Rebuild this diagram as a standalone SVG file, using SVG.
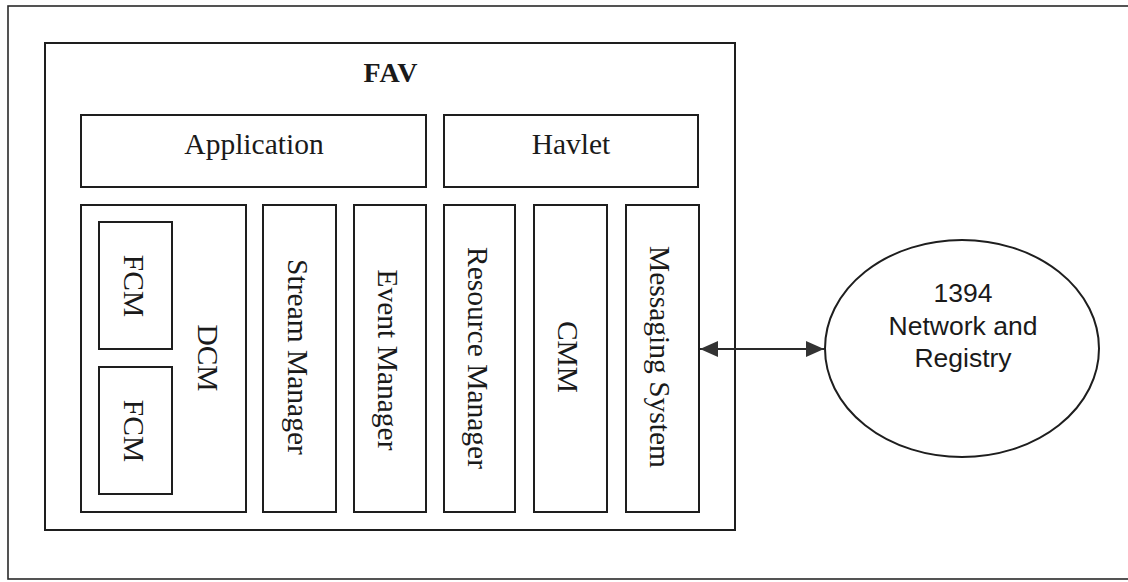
<svg xmlns="http://www.w3.org/2000/svg" width="1128" height="582" viewBox="0 0 1128 582">
  <style>
    .box { fill: none; stroke: #1e1e1e; stroke-width: 2; }
    .frame { fill: none; stroke: #2a2a2a; stroke-width: 1.6; }
    .serif { font-family: "Liberation Serif", "Times New Roman", serif; font-size: 29.5px; fill: #1a1a1a; }
    .title { font-family: "Liberation Serif", "Times New Roman", serif; font-size: 28px; font-weight: bold; fill: #1a1a1a; letter-spacing: 1px; }
    .sans { font-family: "Liberation Sans", Arial, sans-serif; font-size: 26.5px; fill: #1a1a1a; }
    .link { stroke: #2a2a2a; stroke-width: 2; fill: none; }
  </style>
  <defs>
    <marker id="head" viewBox="0 0 18 18" refX="18" refY="9" markerWidth="18" markerHeight="18" markerUnits="userSpaceOnUse" orient="auto-start-reverse">
      <path d="M0,1 L18,9 L0,17 Z" fill="#333"/>
    </marker>
  </defs>

  <rect width="1128" height="582" fill="#ffffff"/>

  <!-- outer frame (open on the right, runs off the page) -->
  <rect id="frame" class="frame" x="8" y="6" width="1130" height="573"/>

  <!-- FAV container -->
  <g id="fav">
    <rect class="box" x="45" y="43" width="690" height="487"/>
    <text class="title" x="391" y="82" text-anchor="middle">FAV</text>
  </g>

  <g id="application">
    <rect class="box" x="81" y="115" width="345" height="72"/>
    <text class="serif" x="254" y="154" text-anchor="middle">Application</text>
  </g>

  <g id="havlet">
    <rect class="box" x="444" y="115" width="254" height="72"/>
    <text class="serif" x="571" y="154" text-anchor="middle">Havlet</text>
  </g>

  <g id="dcm">
    <rect class="box" x="81" y="205" width="165" height="307"/>
    <text class="serif" transform="translate(198,358) rotate(90)" text-anchor="middle">DCM</text>
  </g>

  <g id="fcm1">
    <rect class="box" x="99" y="222" width="73" height="127"/>
    <text class="serif" transform="translate(124,286) rotate(90)" text-anchor="middle">FCM</text>
  </g>

  <g id="fcm2">
    <rect class="box" x="99" y="367" width="73" height="127"/>
    <text class="serif" transform="translate(124,431) rotate(90)" text-anchor="middle">FCM</text>
  </g>

  <g id="stream-manager">
    <rect class="box" x="263" y="205" width="73" height="307"/>
    <text class="serif" transform="translate(288,357) rotate(90)" text-anchor="middle">Stream Manager</text>
  </g>

  <g id="event-manager">
    <rect class="box" x="354" y="205" width="72" height="307"/>
    <text class="serif" transform="translate(378,360) rotate(90)" text-anchor="middle">Event Manager</text>
  </g>

  <g id="resource-manager">
    <rect class="box" x="444" y="205" width="71" height="307"/>
    <text class="serif" transform="translate(468,358) rotate(90)" text-anchor="middle">Resource Manager</text>
  </g>

  <g id="cmm">
    <rect class="box" x="534" y="205" width="73" height="307"/>
    <text class="serif" transform="translate(558,357) rotate(90)" text-anchor="middle">CMM</text>
  </g>

  <g id="messaging-system">
    <rect class="box" x="626" y="205" width="73" height="307"/>
    <text class="serif" transform="translate(650,357) rotate(90)" text-anchor="middle">Messaging System</text>
  </g>

  <g id="network">
    <ellipse class="box" cx="962" cy="348.5" rx="137" ry="108.5"/>
    <text class="sans" x="963" y="302" text-anchor="middle">1394</text>
    <text class="sans" x="963" y="335" text-anchor="middle">Network and</text>
    <text class="sans" x="963" y="367" text-anchor="middle">Registry</text>
  </g>

  <g id="connectors">
    <line class="link" x1="700" y1="349" x2="824" y2="349" marker-start="url(#head)" marker-end="url(#head)"/>
  </g>
</svg>
